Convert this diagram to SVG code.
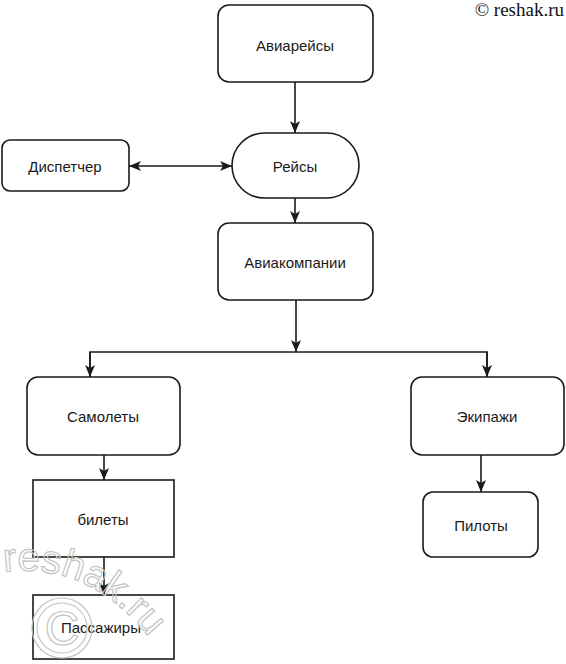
<svg xmlns="http://www.w3.org/2000/svg" width="566" height="664" viewBox="0 0 566 664">
<style>
.n{fill:#fff;stroke:#1a1a1a;stroke-width:1.6}
.t{font-family:"Liberation Sans",Arial,sans-serif;font-size:15px;fill:#1a1a1a;text-anchor:middle;dominant-baseline:central}
.c{fill:none;stroke:#1a1a1a;stroke-width:1.6}
.wm{font-family:"Liberation Sans",Arial,sans-serif;fill:none;stroke:#c4c4c4;stroke-width:1.2}
</style>
<defs>
<marker id="ah" viewBox="0 0 12 10" refX="12" refY="5" markerWidth="12" markerHeight="10" markerUnits="userSpaceOnUse" orient="auto-start-reverse">
<path d="M0,0 L12,5 L0,10 L3,5 z" fill="#1a1a1a"/>
</marker>
<path id="wmp" d="M4,572 Q105,560 170,668"/>
</defs>
<rect width="566" height="664" fill="#fff"/>
<text x="564" y="16" font-family="Liberation Serif,'Times New Roman',serif" font-size="19" fill="#111" text-anchor="end">© reshak.ru</text>
<g id="connectors">
<line class="c" x1="295" y1="82" x2="295" y2="133" marker-end="url(#ah)"/>
<line class="c" x1="295" y1="198" x2="295" y2="223" marker-end="url(#ah)"/>
<line class="c" x1="129" y1="166" x2="232" y2="166" marker-start="url(#ah)" marker-end="url(#ah)"/>
<line class="c" x1="296" y1="300" x2="296" y2="352" marker-end="url(#ah)"/>
<polyline class="c" points="90,377 90,352 487,352 487,377"/>
<line class="c" x1="90" y1="352" x2="90" y2="377" marker-end="url(#ah)"/>
<line class="c" x1="487" y1="352" x2="487" y2="377" marker-end="url(#ah)"/>
<line class="c" x1="104" y1="455" x2="104" y2="480" marker-end="url(#ah)"/>
<line class="c" x1="104" y1="557" x2="104" y2="595" marker-end="url(#ah)"/>
<line class="c" x1="481" y1="455" x2="481" y2="492" marker-end="url(#ah)"/>
</g>
<g id="aviareisy"><rect class="n" x="218" y="5" width="155" height="77" rx="11"/><text class="t" x="295" y="45">Авиарейсы</text></g>
<g id="dispetcher"><rect class="n" x="2" y="140" width="127" height="51" rx="8"/><text class="t" x="65" y="166">Диспетчер</text></g>
<g id="reisy"><rect class="n" x="232" y="133" width="127" height="65" rx="32.5"/><text class="t" x="295" y="166">Рейсы</text></g>
<g id="aviakompanii"><rect class="n" x="218" y="223" width="155" height="77" rx="11"/><text class="t" x="295" y="262">Авиакомпании</text></g>
<g id="samolety"><rect class="n" x="27" y="377" width="153" height="78" rx="11"/><text class="t" x="103" y="416">Самолеты</text></g>
<g id="ekipazhi"><rect class="n" x="411" y="377" width="153" height="78" rx="11"/><text class="t" x="487" y="416">Экипажи</text></g>
<g id="bilety"><rect class="n" x="33" y="480" width="141" height="77"/><text class="t" x="103" y="519">билеты</text></g>
<g id="piloty"><rect class="n" x="423" y="492" width="115" height="65" rx="10"/><text class="t" x="481" y="525">Пилоты</text></g>
<g id="passazhiry"><rect class="n" x="33" y="595" width="141" height="64"/><text class="t" x="101" y="627">Пассажиры</text></g>
<g id="watermark">
<circle cx="62" cy="628" r="30" fill="none" stroke="#c4c4c4" stroke-width="1.2"/>
<circle cx="62" cy="628" r="25" fill="none" stroke="#c4c4c4" stroke-width="1.2"/>
<text class="wm" x="62" y="645" font-size="48" text-anchor="middle">C</text>
<text class="wm" font-size="40"><textPath href="#wmp">reshak.ru</textPath></text>
</g>
</svg>
